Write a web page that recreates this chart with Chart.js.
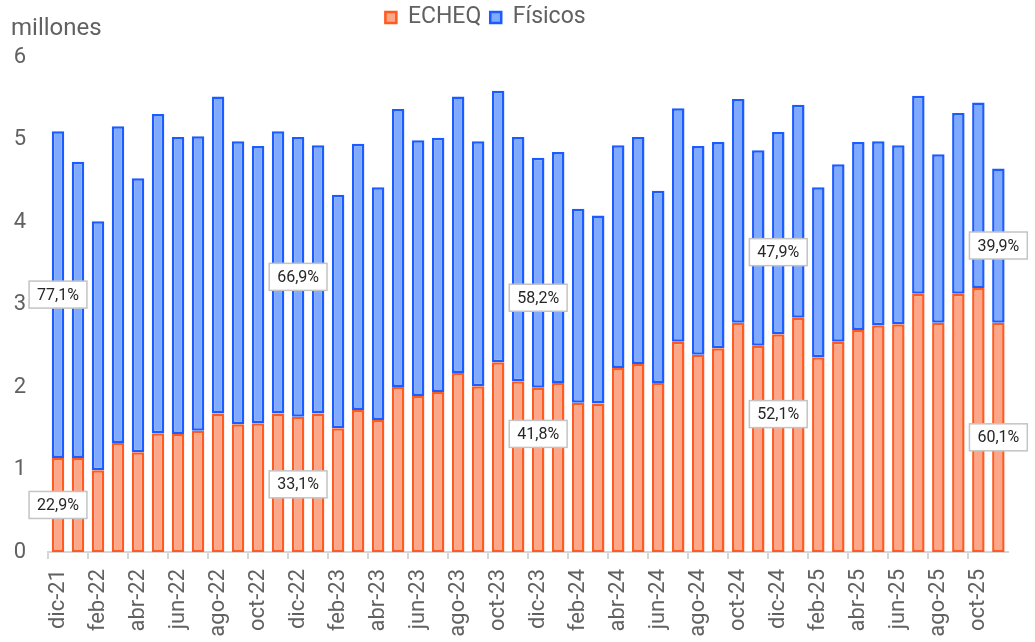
<!DOCTYPE html>
<html>
<head>
<meta charset="utf-8">
<script src="https://cdn.jsdelivr.net/npm/chart.js@4.4.1/dist/chart.umd.min.js"></script>
<style>
  html, body { margin: 0; padding: 0; background: #fff; }
  #wrap { width: 1035px; height: 642px; }
</style>
</head>
<body>
<div id="wrap"><canvas id="chequesChart"></canvas></div>
<script>
var MONTHS = ['dic-21',
  'ene-22','feb-22','mar-22','abr-22','may-22','jun-22','jul-22','ago-22','sep-22','oct-22','nov-22','dic-22',
  'ene-23','feb-23','mar-23','abr-23','may-23','jun-23','jul-23','ago-23','sep-23','oct-23','nov-23','dic-23',
  'ene-24','feb-24','mar-24','abr-24','may-24','jun-24','jul-24','ago-24','sep-24','oct-24','nov-24','dic-24',
  'ene-25','feb-25','mar-25','abr-25','may-25','jun-25','jul-25','ago-25','sep-25','oct-25','nov-25'];

// millones de cheques
var ECHEQ = [1.14,1.14,0.99,1.32,1.21,1.44,1.43,1.47,1.68,1.55,1.56,1.68,1.64,
  1.68,1.50,1.72,1.60,2.00,1.89,1.94,2.17,2.01,2.30,2.07,1.99,
  2.05,1.81,1.80,2.23,2.28,2.05,2.55,2.39,2.47,2.78,2.50,2.64,
  2.84,2.36,2.55,2.69,2.75,2.76,3.13,2.78,3.13,3.20,2.78];

var FISICOS = [3.96,3.59,3.02,3.84,3.32,3.87,3.60,3.57,3.84,3.43,3.36,3.42,3.39,
  3.25,2.83,3.23,2.82,3.37,3.10,3.08,3.35,2.97,3.29,2.96,2.79,
  2.80,2.35,2.28,2.70,2.75,2.33,2.83,2.53,2.50,2.71,2.37,2.45,
  2.58,2.06,2.15,2.28,2.23,2.17,2.40,2.04,2.19,2.25,1.87];

// participacion en diciembre de cada año y ultimo mes
var SHARE_MONTHS = ['dic-21','dic-22','dic-23','dic-24','nov-25'];
var SHARE_ECHEQ = ['22,9%','33,1%','41,8%','52,1%','60,1%'];
var SHARE_FISICOS = ['77,1%','66,9%','58,2%','47,9%','39,9%'];

var TEXT_GREY = '#616161';
var FONT = 'Roboto';

var shareLabels = {
  id: 'shareLabels',
  afterDatasetsDraw(chart, args, opts) {
    var ctx = chart.ctx;
    ctx.save();
    ctx.font = '16px ' + FONT;
    ctx.textAlign = 'center';
    ctx.textBaseline = 'middle';
    SHARE_MONTHS.forEach(function(m, k) {
      var i = MONTHS.indexOf(m);
      [[0, SHARE_ECHEQ[k]], [1, SHARE_FISICOS[k]]].forEach(function(p) {
        var bar = chart.getDatasetMeta(p[0]).data[i];
        var shift = (opts.shift[m] || [0, 0])[p[0]];
        var y = (bar.y + bar.base) / 2 + shift;
        var w = ctx.measureText(p[1]).width + 16;
        var h = 27;
        ctx.fillStyle = '#fff';
        ctx.strokeStyle = '#c4c4c4';
        ctx.lineWidth = 1.5;
        ctx.fillRect(bar.x - w / 2, y - h / 2, w, h);
        ctx.strokeRect(bar.x - w / 2, y - h / 2, w, h);
        ctx.fillStyle = '#262626';
        ctx.fillText(p[1], bar.x, y + 1);
      });
    });
    ctx.restore();
  }
};

var unitLabel = {
  id: 'unitLabel',
  beforeInit(chart) {
    var fit = chart.legend.fit;
    chart.legend.fit = function() {
      fit.call(chart.legend);
      this.height = 60;
    };
  },
  afterLayout(chart) {
    // leyenda algo corrida a la izquierda
    chart.legend.left -= 21;
    chart.legend.right -= 21;
  },
  afterDraw(chart) {
    var ctx = chart.ctx;
    ctx.save();
    ctx.font = '24px ' + FONT;
    ctx.fillStyle = TEXT_GREY;
    ctx.textAlign = 'left';
    ctx.textBaseline = 'alphabetic';
    ctx.fillText('millones', 11, 35);
    ctx.restore();
  }
};

var CHART = new Chart(document.getElementById('chequesChart'), {
  type: 'bar',
  data: {
    labels: MONTHS,
    datasets: [
      { label: 'ECHEQ', data: ECHEQ, backgroundColor: '#fda78a', borderColor: '#ff5a1f',
        borderWidth: 2.5, borderSkipped: false },
      { label: 'Físicos', data: FISICOS, backgroundColor: '#80aaff', borderColor: '#1a5cff',
        borderWidth: 2.5, borderSkipped: false }
    ]
  },
  options: {
    responsive: true,
    maintainAspectRatio: false,
    animation: false,
    datasets: { bar: { categoryPercentage: 0.8, barPercentage: 0.78 } },
    layout: { padding: { left: 0, right: 22, top: -3, bottom: 0 } },
    plugins: {
      legend: {
        position: 'top',
        labels: { font: { family: FONT, size: 23 }, color: TEXT_GREY,
                  boxWidth: 11, boxHeight: 11, padding: 9 }
      },
      tooltip: { enabled: false },
      shareLabels: { shift: { 'dic-23': [-36, 25], 'dic-24': [-29, 19] } }
    },
    scales: {
      x: {
        stacked: true,
        afterFit: function(scale) { scale.height = 90; },
        grid: {
          drawOnChartArea: false, tickLength: 7,
          color: function(c) { return c.index % 2 === 0 ? '#d6d6d6' : 'rgba(0,0,0,0)'; },
          lineWidth: 2
        },
        border: { color: '#d6d6d6', width: 2 },
        ticks: {
          autoSkip: false, maxRotation: 90, minRotation: 90, padding: 10,
          font: { family: FONT, size: 22 }, color: TEXT_GREY,
          callback: function(v, i) { return i % 2 === 0 ? MONTHS[i] : ''; }
        }
      },
      y: {
        stacked: true, min: 0, max: 6,
        afterFit: function(scale) { scale.width = 48; },
        grid: { display: false, drawTicks: false },
        border: { display: false },
        ticks: { stepSize: 1, padding: 22, font: { family: FONT, size: 22 }, color: TEXT_GREY }
      }
    }
  },
  plugins: [shareLabels, unitLabel]
});
</script>
</body>
</html>
